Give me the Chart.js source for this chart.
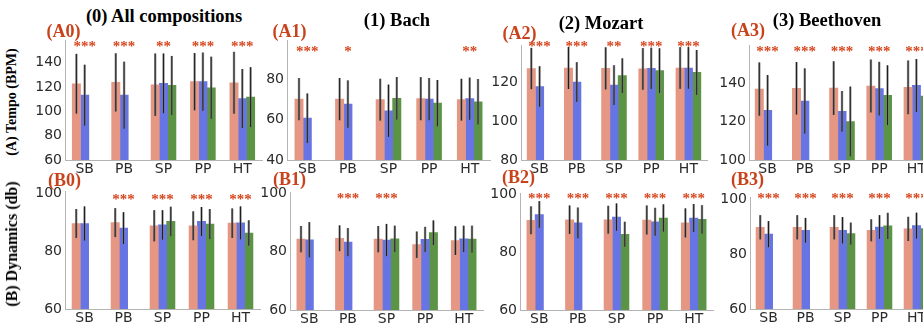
<!DOCTYPE html>
<html>
<head>
<meta charset="utf-8">
<script src="https://cdn.jsdelivr.net/npm/chart.js@4.4.1/dist/chart.umd.min.js"></script>
<style>
  html, body { margin: 0; padding: 0; background: #fff; width: 923px; height: 325px; overflow: hidden; position: relative; }
  canvas { position: absolute; }
  .txt { position: absolute; font-family: "Liberation Serif", "Times New Roman", serif; font-weight: bold; white-space: nowrap; line-height: 1; }
  .title { color: #000; font-size: 18.5px; transform: translate(-50%, -50%); }
  .tag { color: #c8431c; font-size: 18px; transform: translate(-50%, -50%); }
  .ytitle { color: #000; transform: translate(-50%, -50%) rotate(-90deg); }
</style>
</head>
<body>
<script>
// categories + series (salmon / blue / green)
const categories = ['SB', 'PB', 'SP', 'PP', 'HT'];
const seriesNames = ['Group 1', 'Group 2', 'Group 3'];

// (A) Tempo (BPM) - means and std per series
const a0Mean = [[122.6, 123.7, 121.8, 124.3, 123.4], [113.2, 113.2, 122.9, 124.3, 110.5], [null, null, 121.2, 119.3, 111.6]];
const a0Sd   = [[24.5, 23.9, 25.6, 23.5, 25.4], [25.0, 27.5, 24.5, 23.9, 24.2], [null, null, 24.2, 25.5, 24.6]];
const a1Mean = [[70.3, 70.3, 70.0, 70.5, 70.0], [60.8, 67.8, 64.5, 70.3, 70.5], [null, null, 70.7, 68.3, 69.0]];
const a1Sd   = [[10.5, 10.5, 10.4, 10.7, 10.4], [12.3, 11.8, 13.0, 10.5, 10.5], [null, null, 10.6, 11.5, 11.3]];
const a2Mean = [[127.4, 127.7, 127.5, 127.2, 127.7], [118.1, 120.4, 118.8, 127.5, 127.7], [null, null, 123.7, 126.3, 125.4]];
const a2Sd   = [[10.7, 10.9, 10.9, 10.8, 10.8], [10.5, 10.3, 10.3, 10.7, 10.8], [null, null, 9.0, 11.6, 11.6]];
const a3Mean = [[137.0, 137.4, 137.5, 138.6, 137.9], [125.9, 130.8, 125.4, 137.2, 138.9], [null, null, 120.1, 133.8, 133.3]];
const a3Sd   = [[13.9, 13.7, 14.0, 13.8, 14.0], [18.4, 17.0, 10.6, 14.0, 13.8], [null, null, 18.2, 15.6, 15.4]];

// (B) Dynamics (db)
const b0Mean = [[89.6, 89.9, 88.8, 88.8, 89.7], [89.6, 88.0, 89.1, 90.3, 89.8], [null, null, 90.3, 89.4, 86.3]];
const b0Sd   = [[5.0, 5.0, 5.4, 5.0, 5.1], [5.9, 5.5, 5.1, 5.0, 5.7], [null, null, 5.1, 5.2, 4.4]];
const b1Mean = [[84.2, 84.5, 84.2, 82.3, 83.7], [84.0, 83.2, 83.9, 84.1, 84.3], [null, null, 84.3, 86.4, 84.2]];
const b1Sd   = [[4.5, 4.4, 4.5, 4.5, 4.9], [6.0, 4.8, 5.5, 4.3, 4.5], [null, null, 4.5, 4.2, 4.6]];
const b2Mean = [[90.9, 91.1, 91.1, 91.0, 90.0], [92.9, 90.0, 92.0, 90.4, 91.7], [null, null, 86.1, 91.7, 91.2]];
const b2Sd   = [[4.8, 4.9, 4.8, 5.0, 5.0], [4.6, 5.3, 4.7, 4.8, 4.8], [null, null, 4.3, 4.7, 4.9]];
const b3Mean = [[89.7, 89.7, 89.7, 88.6, 89.1], [87.2, 88.6, 88.6, 89.8, 90.3], [null, null, 87.4, 90.2, 89.2]];
const b3Sd   = [[4.4, 4.4, 4.4, 4.0, 4.4], [4.75, 4.5, 4.8, 4.3, 4.7], [null, null, 4.0, 4.75, 4.4]];

// significance marks
const a0Stars = ['***', '***', '**', '***', '***'];
const a1Stars = ['***', '*', '', '', '**'];
const a2Stars = ['***', '***', '**', '***', '***'];
const a3Stars = ['***', '***', '***', '***', '***'];
const b0Stars = ['', '***', '***', '***', '***'];
const b1Stars = ['', '***', '***', '', ''];
const b2Stars = ['***', '***', '***', '***', '***'];
const b3Stars = ['***', '***', '***', '***', '***'];

// y ticks shown
const a0Ticks = [60, 80, 100, 120, 140];
const a1Ticks = [40, 60, 80];
const a2Ticks = [80, 100, 120];
const a3Ticks = [100, 120, 140];
const bTicks = [60, 80, 100];

const colTitles = ['(0) All compositions', '(1) Bach', '(2) Mozart', '(3) Beethoven'];

const colors = ['#e59783', '#6674e4', '#5c9446'];
const YW = 45, XH = 20;

// layout: chart area in page px
const panels = [
  { mean: a0Mean, sd: a0Sd, stars: a0Stars, ticks: a0Ticks, min: 60, max: 158.5, l: 65, r: 262, t: 40, b: 160, ct: 28, so: 3 },
  { mean: a1Mean, sd: a1Sd, stars: a1Stars, ticks: a1Ticks, min: 40, max: 99.7, l: 287, r: 490, t: 40, b: 160, ct: 28, so: 8 },
  { mean: a2Mean, sd: a2Sd, stars: a2Stars, ticks: a2Ticks, min: 80, max: 139.6, l: 521, r: 707, t: 45, b: 160, ct: 28, so: -2 },
  { mean: a3Mean, sd: a3Sd, stars: a3Stars, ticks: a3Ticks, min: 100, max: 160, l: 749, r: 935, t: 45, b: 160, ct: 28, so: 3 },
  { mean: b0Mean, sd: b0Sd, stars: b0Stars, ticks: bTicks, min: 60, max: 100.7, l: 65, r: 260.5, t: 190, b: 309, ct: 180, so: 5 },
  { mean: b1Mean, sd: b1Sd, stars: b1Stars, ticks: bTicks, min: 60, max: 100.3, l: 290, r: 483, t: 192, b: 310, ct: 180, so: 3 },
  { mean: b2Mean, sd: b2Sd, stars: b2Stars, ticks: bTicks, min: 60, max: 100.3, l: 520, r: 713, t: 193, b: 310, ct: 180, so: 2 },
  { mean: b3Mean, sd: b3Sd, stars: b3Stars, ticks: bTicks, min: 60, max: 100.7, l: 750, r: 935, t: 197, b: 309, ct: 180, so: -2 }
];

const errBars = {
  id: 'errBars',
  afterDatasetsDraw(chart) {
    const ctx = chart.ctx, y = chart.scales.y;
    ctx.save();
    chart.data.datasets.forEach((ds, di) => {
      chart.getDatasetMeta(di).data.forEach((bar, i) => {
        const m = ds.data[i], s = ds.sd[i];
        if (m == null) return;
        const y1 = y.getPixelForValue(m + s), y2 = y.getPixelForValue(m - s);
        ctx.strokeStyle = 'rgba(120,120,120,0.8)';
        ctx.lineWidth = 2.4;
        ctx.beginPath(); ctx.moveTo(bar.x, y1); ctx.lineTo(bar.x, y2); ctx.stroke();
        ctx.strokeStyle = '#1e1e1e';
        ctx.lineWidth = 1;
        ctx.beginPath(); ctx.moveTo(bar.x, y1); ctx.lineTo(bar.x, y2); ctx.stroke();
      });
    });
    ctx.restore();
  }
};

const starMarks = {
  id: 'starMarks',
  afterDatasetsDraw(chart, args, opts) {
    const ctx = chart.ctx, x = chart.scales.x;
    ctx.save();
    ctx.fillStyle = '#d6461e';
    ctx.font = 'bold 15px "Liberation Serif"';
    ctx.textAlign = 'center';
    ctx.textBaseline = 'middle';
    opts.marks.forEach((m, i) => {
      if (m) ctx.fillText(m, x.getPixelForValue(i), chart.chartArea.top + opts.offset + 4);
    });
    ctx.restore();
  }
};

function addText(cls, text, x, y, size) {
  const d = document.createElement('div');
  d.className = 'txt ' + cls;
  d.textContent = text;
  d.style.left = x + 'px';
  d.style.top = y + 'px';
  if (size) d.style.fontSize = size + 'px';
  document.body.appendChild(d);
}

panels.forEach((p, n) => {
  const cv = document.createElement('canvas');
  const left = p.l - YW;
  const w = p.r - left + 4;
  const h = p.b + XH - p.ct;
  cv.width = w; cv.height = h;
  cv.style.left = left + 'px';
  cv.style.top = p.ct + 'px';
  document.body.appendChild(cv);

  new Chart(cv, {
    type: 'bar',
    data: {
      labels: categories,
      datasets: p.mean.map((vals, si) => ({
        label: seriesNames[si],
        data: vals,
        sd: p.sd[si],
        backgroundColor: colors[si],
        borderWidth: 0,
        barThickness: 8.3
      }))
    },
    options: {
      responsive: false,
      animation: false,
      devicePixelRatio: 1,
      layout: { padding: { top: p.t - p.ct, right: 4, left: 0, bottom: 0 } },
      plugins: {
        legend: { display: false },
        tooltip: { enabled: false },
        starMarks: { marks: p.stars, offset: p.so }
      },
      scales: {
        x: {
          grid: { display: false, drawTicks: false },
          border: { display: true, color: '#b4b4b4', width: 1 },
          ticks: { color: '#2b2b2b', padding: 1, font: { family: 'DejaVu Sans', size: 14 } },
          afterFit(s) { s.height = XH; }
        },
        y: {
          min: p.min,
          max: p.max,
          grid: { display: false, drawTicks: false },
          border: { display: true, color: '#b4b4b4', width: 1 },
          ticks: { color: '#2b2b2b', padding: 3, font: { family: 'DejaVu Sans', size: 14 } },
          afterBuildTicks(s) { s.ticks = p.ticks.map(v => ({ value: v })); },
          afterFit(s) { s.width = YW; }
        }
      }
    },
    plugins: [errBars, starMarks]
  });
});

// column titles, panel tags, row titles
addText('title', colTitles[0], 164, 16);
addText('title', colTitles[1], 397, 20);
addText('title', colTitles[2], 601, 23);
addText('title', colTitles[3], 827, 20);

addText('tag', '(A0)', 63.5, 31);
addText('tag', '(A1)', 289.5, 31);
addText('tag', '(A2)', 519.5, 33);
addText('tag', '(A3)', 748, 30);
addText('tag', '(B0)', 64.5, 180);
addText('tag', '(B1)', 289.5, 179);
addText('tag', '(B2)', 518.5, 177);
addText('tag', '(B3)', 747.5, 179);

addText('ytitle', '(A) Tempo (BPM)', 12, 102, 14);
addText('ytitle', '(B) Dynamics (db)', 12, 244, 16);
</script>
</body>
</html>
